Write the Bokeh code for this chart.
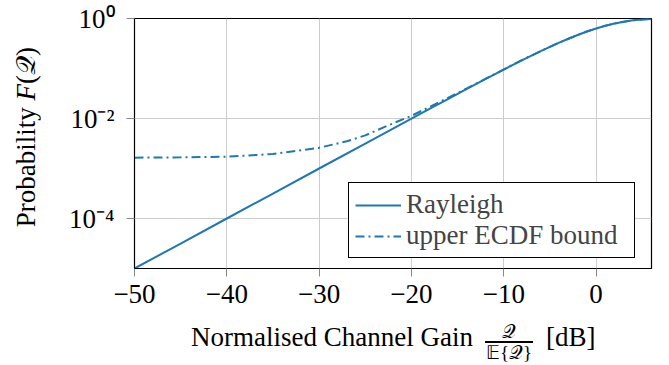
from bokeh.plotting import figure
from bokeh.models import FixedTicker, Legend, LegendItem, Div
from bokeh.layouts import row, column
from bokeh.embed import file_html
from bokeh.resources import INLINE

# ---- data ----
gain_db = [-50, -45, -40, -35, -30, -25, -20, -18, -16, -14, -12, -10, -8, -6,
           -4, -3, -2, -1, 0, 1, 2, 3, 4, 5, 6]
rayleigh = [1.0e-5, 3.16e-5, 1.0e-4, 3.16e-4, 1.0e-3, 3.16e-3, 9.95e-3, 0.0157,
            0.0248, 0.0390, 0.0612, 0.0952, 0.147, 0.222, 0.328, 0.394, 0.468,
            0.548, 0.632, 0.716, 0.795, 0.864, 0.919, 0.958, 0.981]
ecdf_db = [-50, -45, -40, -35, -30, -27, -25, -22, -20, -18, -16, -14, -12, -10,
           -8, -6, -4, -3, -2, -1, 0, 1, 2, 3, 4, 5, 6]
ecdf_upper = [1.65e-3, 1.67e-3, 1.72e-3, 1.95e-3, 2.6e-3, 3.5e-3, 4.6e-3, 8.0e-3,
              1.13e-2, 1.72e-2, 2.62e-2, 4.0e-2, 6.2e-2, 0.0962, 0.148, 0.223,
              0.329, 0.394, 0.468, 0.548, 0.632, 0.716, 0.795, 0.864, 0.919, 0.958, 0.981]
x_ticks = [-50, -40, -30, -20, -10, 0]
x_tick_labels = ["\u221250", "\u221240", "\u221230", "\u221220", "\u221210", "0"]
y_ticks = [1e-4, 1e-2, 1.0]
y_tick_labels = ["10\u207b\u2074", "10\u207b\u00b2", "10\u2070"]
series_names = ["Rayleigh", "upper ECDF bound"]

BLUE = "#1f77b4"
FONT = "Liberation Serif"
FS = "27px"

YLAB_W = 40
PW, PH = 621, 310
XLAB_H = 47

p = figure(width=PW, height=PH, x_range=(-50, 6), y_range=(1e-5, 1.0),
           y_axis_type="log", output_backend="svg", toolbar_location=None,
           min_border_left=94, min_border_right=10, min_border_top=18,
           min_border_bottom=42)
p.outline_line_color = "black"
p.outline_line_width = 1.2
p.outline_line_alpha = 1
p.background_fill_color = "white"
p.border_fill_color = "white"

r1 = p.line(gain_db, rayleigh, line_color=BLUE, line_width=2)
r2 = p.line(ecdf_db, ecdf_upper, line_color=BLUE, line_width=2, line_dash="9 4 2 4")

p.xaxis.ticker = FixedTicker(ticks=x_ticks)
p.yaxis.ticker = FixedTicker(ticks=y_ticks)
p.xaxis.major_label_overrides = dict(zip(x_ticks, x_tick_labels))
p.yaxis.major_label_overrides = dict(zip(y_ticks, y_tick_labels))
for ax in (p.xaxis[0], p.yaxis[0]):
    ax.major_label_text_font = FONT
    ax.major_label_text_font_size = FS
    ax.major_label_text_color = "black"
    ax.axis_line_color = "black"
    ax.major_tick_line_color = "#888888"
    ax.major_tick_out = 8
    ax.major_tick_in = 0
    ax.minor_tick_line_color = None
    ax.axis_label = None
p.xaxis.major_label_standoff = 8
p.yaxis.major_label_standoff = 12
p.grid.grid_line_color = "#cccccc"
p.grid.grid_line_width = 1

legend = Legend(items=[LegendItem(label=series_names[0], renderers=[r1]),
                       LegendItem(label=series_names[1], renderers=[r2])],
                location=(214, 10))
legend.label_text_font = FONT
legend.label_text_font_size = FS
legend.border_line_color = "black"
legend.border_line_alpha = 1
legend.border_line_width = 1
legend.background_fill_color = "white"
legend.background_fill_alpha = 1
legend.glyph_width = 46
legend.label_standoff = 5
legend.label_width = 222
legend.padding = 6
legend.spacing = 0
legend.margin = 0
legend.label_height = 28
legend.glyph_height = 28
p.add_layout(legend, "center")

Q = "\U0001D4AC"
E = "\U0001D53C"

ylab_html = (
    f'<div style="width:{YLAB_W}px;height:{PH}px;display:flex;align-items:center;'
    'justify-content:center;padding-left:12px;padding-bottom:36px;box-sizing:border-box;">'
    f'<span style="writing-mode:vertical-rl;transform:rotate(180deg);font-family:\'{FONT}\';'
    f'font-size:{FS};color:black;white-space:nowrap;">Probability <i>F</i>({Q})</span></div>'
)
ylab = Div(text=ylab_html, width=YLAB_W, height=PH, margin=0)

xlab_html = (
    f'<div style="position:relative;width:{YLAB_W + PW}px;height:{XLAB_H}px;'
    f'font-family:\'{FONT}\';color:black;">'
    f'<span style="position:absolute;left:191px;top:14px;font-size:{FS};line-height:1;'
    'white-space:nowrap;">Normalised Channel Gain</span>'
    '<span style="position:absolute;left:485px;top:12px;width:48px;text-align:center;'
    f'font-size:19px;line-height:1;">{Q}</span>'
    '<span style="position:absolute;left:485px;top:31px;width:48px;height:2px;'
    'background:black;"></span>'
    '<span style="position:absolute;left:485px;top:33px;width:48px;text-align:center;'
    f'font-size:19px;line-height:1;white-space:nowrap;">{E}{{{Q}}}</span>'
    f'<span style="position:absolute;left:546px;top:14px;font-size:{FS};line-height:1;'
    'white-space:nowrap;">[dB]</span>'
    '</div>'
)
xlab = Div(text=xlab_html, width=YLAB_W + PW, height=XLAB_H, margin=0)

layout = column(row(ylab, p, spacing=0), xlab, spacing=0)

open("out.html", "w").write(file_html(layout, INLINE))
